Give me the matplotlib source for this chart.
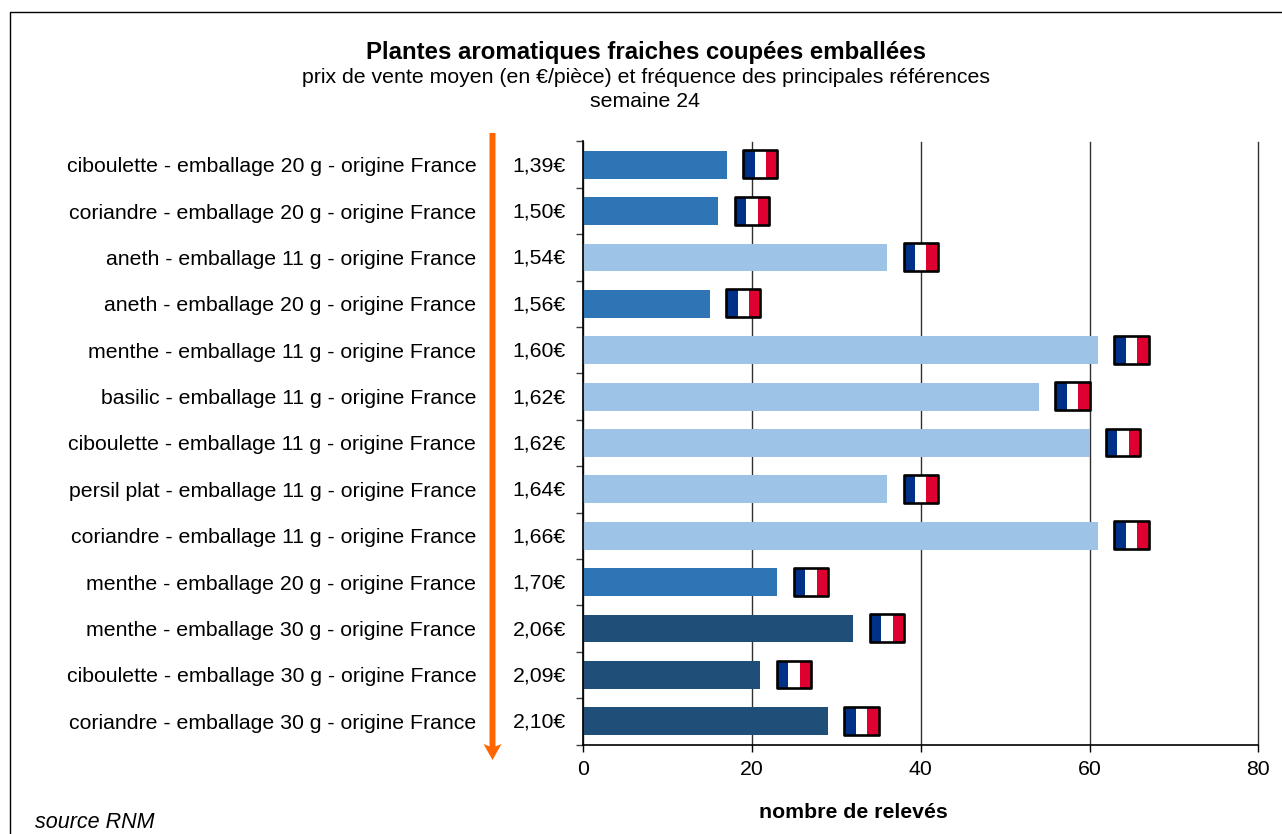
import matplotlib
matplotlib.use('Agg')
import matplotlib.pyplot as plt
from matplotlib.lines import Line2D
from matplotlib.patches import FancyArrow, Rectangle
from matplotlib.transforms import Affine2D
import numpy as np

plt.rcParams['font.family'] = ['Liberation Sans', 'DejaVu Sans']

labels = ['ciboulette - emballage 20 g - origine France',
          'coriandre - emballage 20 g - origine France',
          'aneth - emballage 11 g - origine France',
          'aneth - emballage 20 g - origine France',
          'menthe - emballage 11 g - origine France',
          'basilic - emballage 11 g - origine France',
          'ciboulette - emballage 11 g - origine France',
          'persil plat - emballage 11 g - origine France',
          'coriandre - emballage 11 g - origine France',
          'menthe - emballage 20 g - origine France',
          'menthe - emballage 30 g - origine France',
          'ciboulette - emballage 30 g - origine France',
          'coriandre - emballage 30 g - origine France']
prices = ['1,39€', '1,50€', '1,54€', '1,56€', '1,60€', '1,62€', '1,62€',
          '1,64€', '1,66€', '1,70€', '2,06€', '2,09€', '2,10€']
counts = [17, 16, 36, 15, 61, 54, 60, 36, 61, 23, 32, 21, 29]
weights = [20, 20, 11, 20, 11, 11, 11, 11, 11, 20, 30, 30, 30]
weight_colors = {11: '#9DC3E6', 20: '#2E75B6', 30: '#1F4E79'}

W, H = 1282, 834
fs = 15.35
fig = plt.figure(figsize=(W / 100, H / 100), dpi=100)
ax = fig.add_axes([583.3 / W, 1 - 744.5 / H, 675 / W, 603 / H])

# pixel coordinates of the reference, y going down
px = Affine2D().scale(1, -1).translate(0, H)

y = np.arange(len(labels))
ax.barh(y, counts, height=0.6, color=[weight_colors[w] for w in weights], zorder=3)
ax.set_xlim(0, 80)
ax.set_ylim(len(labels) - 0.5, -0.5)

ax.grid(axis='x', color='#303030', linewidth=1, zorder=1, clip_on=False)
ax.set_axisbelow(True)
for side in ['top', 'right']:
    ax.spines[side].set_visible(False)
for side in ['left', 'bottom']:
    ax.spines[side].set_linewidth(1.2)
    ax.spines[side].set_zorder(4)

ax.set_xticks([0, 20, 40, 60, 80])
ax.tick_params(axis='x', length=5, width=1, labelsize=fs, pad=6.5, colors='black')
ax.set_yticks(np.arange(len(labels) + 1) - 0.5)
ax.set_yticklabels([])
ax.tick_params(axis='y', which='major', length=5, width=1, color='#404040')
ax.set_yticks(y, minor=True)
ax.set_yticklabels(labels, minor=True)
ax.tick_params(axis='y', which='minor', length=0, labelsize=fs, pad=77)

# prices, next to the axis
for yi, price in zip(y, prices):
    ax.annotate(price, xy=(0, yi), xycoords='data', xytext=(-12.6, -0.7),
                textcoords='offset points', ha='right', va='center', fontsize=fs)

# french flags after each bar
flag_gap = 1.95
flag_w = 4.05
flag_h = 0.6
for yi, c in zip(y, counts):
    x0 = c + flag_gap
    y0 = yi - flag_h / 2 - 0.01
    for i, col in enumerate(['#003189', '#FFFFFF', '#DE0030']):
        ax.add_patch(Rectangle((x0 + i * flag_w / 3, y0), flag_w / 3, flag_h,
                               facecolor=col, edgecolor='none', zorder=5))
    ax.add_patch(Rectangle((x0, y0), flag_w, flag_h, facecolor='none',
                           edgecolor='black', linewidth=1.9, joinstyle='round', zorder=6))

# orange price arrow
fig.add_artist(FancyArrow(492.5, 133, 0, 627, width=6, head_width=18, head_length=16,
                          overhang=0.15, length_includes_head=True, color='#FF6600',
                          linewidth=0, transform=px))

# frame
fig.add_artist(Line2D([10, 10, W], [H, 12, 12], color='black', linewidth=1, transform=px))

fig.text(645.5 / W, 1 - 52 / H, 'Plantes aromatiques fraiches coupées emballées',
         ha='center', va='center', fontsize=17.3, fontweight='bold')
fig.text(645.5 / W, 1 - 77.6 / H, 'prix de vente moyen (en €/pièce) et fréquence des principales références',
         ha='center', va='center', fontsize=fs)
fig.text(645.5 / W, 1 - 101.6 / H, 'semaine 24', ha='center', va='center', fontsize=fs)
fig.text(853.5 / W, 1 - 812 / H, 'nombre de relevés', ha='center', va='center',
         fontsize=fs, fontweight='bold')
fig.text(35 / W, 1 - 822 / H, 'source RNM', ha='left', va='center', fontsize=15.5,
         fontstyle='italic')

fig.savefig('out.png', dpi=100)
